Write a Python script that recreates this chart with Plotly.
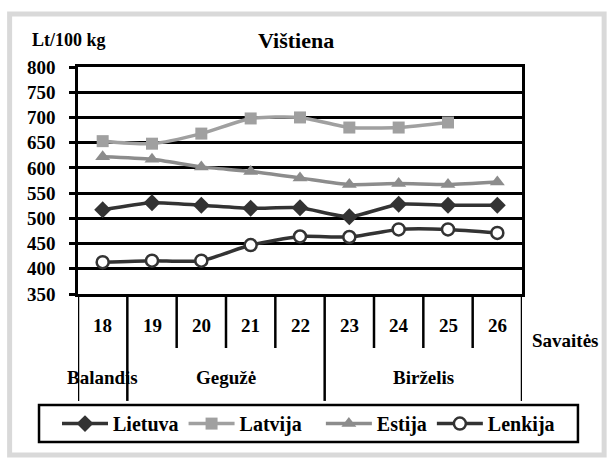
import plotly.graph_objects as go

weeks = [18, 19, 20, 21, 22, 23, 24, 25, 26]
week_labels = ["18", "19", "20", "21", "22", "23", "24", "25", "26"]
lietuva = [517, 531, 526, 520, 521, 503, 528, 526, 526]
latvija = [653, 648, 668, 698, 700, 680, 680, 690, None]
estija = [622, 617, 602, 593, 580, 567, 569, 567, 572]
lenkija = [413, 416, 416, 447, 464, 463, 478, 478, 471]
months = ["Balandis", "Gegužė", "Birželis"]
month_centers = [18, 20.5, 24.5]
month_bounds_long = [17.5, 18.5, 22.5, 26.5]

FONT = "Liberation Serif, Times New Roman, DejaVu Serif, serif"
FS = 19
fig = go.Figure()

def add(name, y, color, symbol, size, legend, fill=None, lw=0):
    fig.add_trace(go.Scatter(
        x=weeks, y=y, name=name, mode="lines+markers", legend=legend,
        line=dict(color=color, width=3.5, shape="spline", smoothing=0.6),
        marker=dict(symbol=symbol, size=size, color=fill or color,
                    line=dict(color=color, width=lw)),
        connectgaps=False,
    ))

add("Lietuva", lietuva, "#333333", "diamond", 13, "legend")
add("Latvija", latvija, "#a0a0a0", "square", 12, "legend")
add("Estija", estija, "#8c8c8c", "triangle-up", 13, "legend2")
add("Lenkija", lenkija, "#333333", "circle", 12, "legend2", fill="white", lw=2.5)

def bold(size):
    return dict(family=FONT, size=size, color="black", weight="bold")

shapes = []
shapes.append(dict(type="rect", xref="paper", yref="paper",
                   x0=-0.154, x1=1.185, y0=-0.709, y1=1.233,
                   line=dict(color="#d9d9d9", width=5), layer="below"))
shapes.append(dict(type="rect", xref="paper", yref="paper",
                   x0=-0.0878, x1=1.126, y0=-0.652, y1=-0.489,
                   line=dict(color="black", width=2.5)))
for i in range(len(weeks) + 1):
    xb = weeks[0] - 0.5 + i
    long = xb in month_bounds_long
    shapes.append(dict(type="line", xref="x", yref="paper",
                       x0=xb, x1=xb, y0=0, y1=(-0.471 if long else -0.238),
                       line=dict(color="black", width=2.5)))

ann = []
for w, t in zip(weeks, week_labels):
    ann.append(dict(x=w, y=-0.137, xref="x", yref="paper", text=t, showarrow=False,
                    xanchor="center", yanchor="middle", font=bold(FS)))
for m, c in zip(months, month_centers):
    ann.append(dict(x=c, y=-0.37, xref="x", yref="paper", text=m, showarrow=False,
                    xanchor="center", yanchor="middle", font=bold(FS)))
ann.append(dict(x=1.097, y=-0.203, xref="paper", yref="paper", text="Savaitės",
                xanchor="center", yanchor="middle", showarrow=False, font=bold(FS)))
ann.append(dict(x=-0.108, y=1.12, xref="paper", yref="paper", text="Lt/100 kg",
                xanchor="left", yanchor="middle", showarrow=False, font=bold(18)))
ann.append(dict(x=0.491, y=1.117, xref="paper", yref="paper", text="Vištiena",
                xanchor="center", yanchor="middle", showarrow=False, font=bold(22)))

leg_common = dict(orientation="h", yanchor="top", xanchor="left", y=-0.485,
                  borderwidth=0, itemwidth=46, bgcolor="rgba(0,0,0,0)",
                  font=bold(20), tracegroupgap=0, itemclick=False)

fig.update_layout(
    width=607, height=458,
    margin=dict(l=78, r=85, t=67, b=164),
    paper_bgcolor="white", plot_bgcolor="white",
    font=bold(FS),
    showlegend=True,
    legend=dict(x=-0.0473, **leg_common),
    legend2=dict(x=0.547, **leg_common),
    shapes=shapes, annotations=ann,
)
fig.update_xaxes(range=[17.5, 26.5], showticklabels=False, showgrid=False,
                 zeroline=False, showline=True, linecolor="black", linewidth=2.5,
                 mirror=True, ticks="")
fig.update_yaxes(range=[350, 800], dtick=50, tick0=350, showgrid=True,
                 gridcolor="black", gridwidth=2.5, zeroline=False, showline=True,
                 linecolor="black", linewidth=2.5, mirror=True, ticks="outside",
                 ticklen=6, tickwidth=2.5, tickcolor="black", ticklabelstandoff=10,
                 tickfont=bold(FS))

fig.write_html("out.html", config={"displayModeBar": False},
               post_script="document.body.style.margin='0';")
